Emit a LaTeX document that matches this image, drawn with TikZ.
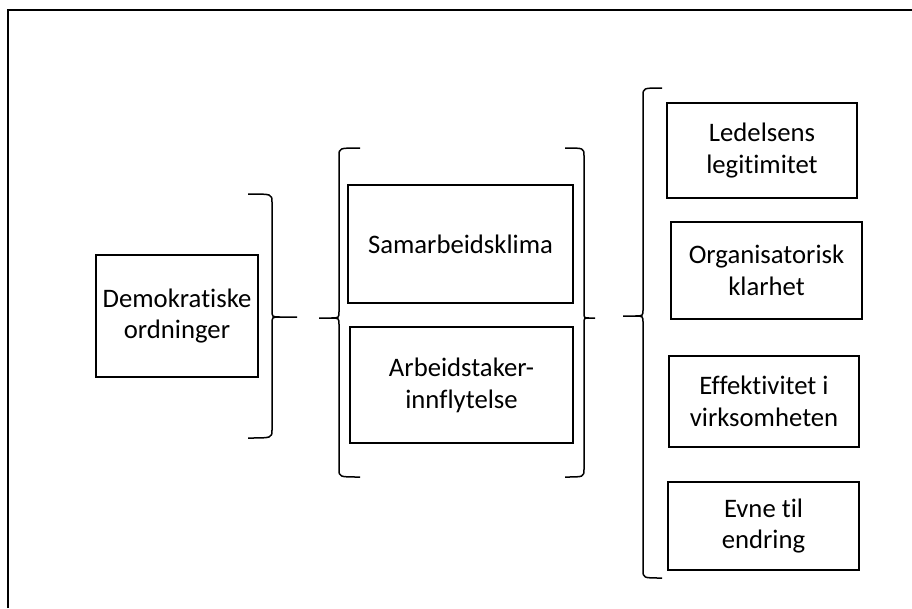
\documentclass[tikz,border=0pt]{standalone}
\usepackage{fontspec}
\setmainfont{Carlito}[Ligatures={NoCommon}]
\begin{document}
\begin{tikzpicture}[x=1pt,y=-1pt,
  box/.style={draw=black,line width=1.3pt,rectangle,inner sep=0pt,align=center,
    font=\fontsize{26.7}{31.8}\selectfont},
  brace/.style={draw=black,line width=1.5pt,line join=round}]
\useasboundingbox (0,0) rectangle (912,608);
\fill[white] (0,0) rectangle (912,608);
% frame
\draw[line width=2.6pt] (8,608) -- (8,10) -- (912,10);
% boxes
\node[box,minimum width=162pt,minimum height=122pt] (demo) at (177,316) {Demokratiske\\ordninger};
\node[box,minimum width=225pt,minimum height=118pt] (sam) at (460.5,244) {Samarbeidsklima};
\node[box,minimum width=223pt,minimum height=116pt] (arb) at (461.5,385) {Arbeidstaker-\\innflytelse};
\node[box,minimum width=190pt,minimum height=95pt] (led) at (762,150.5) {Ledelsens\\legitimitet};
\node[box,minimum width=191pt,minimum height=97pt] (org) at (766.5,270.5) {Organisatorisk\\klarhet};
\node[box,minimum width=190pt,minimum height=91pt] (eff) at (764,401.5) {Effektivitet i\\virksomheten};
\node[box,minimum width=191pt,minimum height=88pt] (evne) at (763.5,526) {Evne til\\endring};
% brace 1 (tip right)
\draw[brace] (248,194) .. controls (272,194) .. (272,202) -- (272,310) .. controls (272,317) .. (280,317) -- (297,317);
\draw[brace] (280,317) .. controls (272,317) .. (272,324) -- (272,430) .. controls (272,438) .. (248,438);
% brace 2 (tip left)
\draw[brace] (360,148) .. controls (339,148) .. (339,156) -- (339,311) .. controls (339,318) .. (331,318) -- (319,318);
\draw[brace] (331,318) .. controls (339,318) .. (339,325) -- (339,469) .. controls (339,477) .. (360,477);
% brace 3 (tip right)
\draw[brace] (565,148) .. controls (584,148) .. (584,156) -- (584,312) .. controls (584,318) .. (589,318) -- (595,318);
\draw[brace] (589,318) .. controls (584,318) .. (584,324) -- (584,469) .. controls (584,477) .. (565,477);
% brace 4 (tip left)
\draw[brace] (662,88) .. controls (643,88) .. (643,96) -- (643,309) .. controls (643,316) .. (635,316) -- (623,316);
\draw[brace] (635,316) .. controls (643,316) .. (643,323) -- (643,570) .. controls (643,578) .. (662,578);
\end{tikzpicture}
\end{document}
